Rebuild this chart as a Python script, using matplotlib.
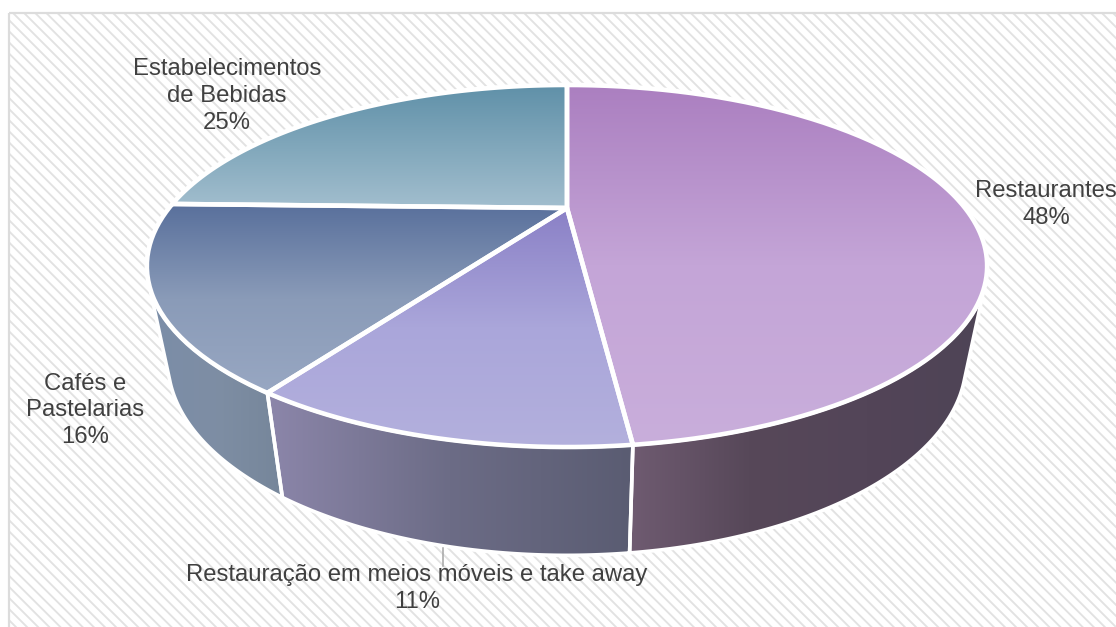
import numpy as np
import matplotlib
matplotlib.use("Agg")
import matplotlib.pyplot as plt
from matplotlib.colors import LinearSegmentedColormap
from matplotlib.patches import Polygon, Rectangle
from matplotlib.path import Path
from matplotlib.transforms import Affine2D, Transform

# ---- data -------------------------------------------------------------
categories = ["Restaurantes", "Restauração em meios móveis e take away",
              "Cafés e\nPastelarias", "Estabelecimentos\nde Bebidas"]
values = [48.2, 11.1, 16.1, 24.6]

# ---- styles ------------------------------------------------------------
top_colors = [["#ab7fc0", "#c4a5d7", "#c9aedb"], ["#8a80c6", "#aaa6da", "#b3b0dd"],
              ["#59709c", "#8a9bb8", "#98a7c2"], ["#5f90a8", "#a2bece"]]
wall_colors = [["#6f5b71", "#574859", "#534558", "#4e4456"],
               ["#8c86aa", "#6c6c86", "#5a5c72"],
               ["#7b8da8", "#7e8ea4", "#76869a"]]
label_pos = [(1046, 204.5), (417, 588.5), (85, 410.5), (227, 96)]
TEXT = "#404040"

plt.rcParams["font.family"] = ["Liberation Sans", "DejaVu Sans"]
plt.rcParams["hatch.linewidth"] = 1.35

fig = plt.figure(figsize=(11.16, 6.27), dpi=100, facecolor="white")
ax = fig.add_axes([0, 0, 1, 1])


class Perspective(Transform):
    """Maps the unit circle of the pie to the tilted disc on the page."""
    input_dims = output_dims = 2
    is_separable = False
    has_inverse = False

    def __init__(self, sx=1.0, sy=1.0, oy=0.0):
        super().__init__()
        self.sx, self.sy, self.oy = sx, sy, oy

    def transform_non_affine(self, xy):
        xy = np.asarray(xy, float)
        w = 1 + 0.3204 * xy[:, 1]
        X = 398 * xy[:, 0] / w
        Y = (208 - 95.8 * xy[:, 1]) / w
        return np.column_stack([567 + self.sx * X, self.oy + self.sy * Y])

    def transform_path_non_affine(self, path):
        scaled = path.transformed(Affine2D().scale(1000))
        polys = scaled.to_polygons(closed_only=True)
        verts = np.vstack(polys) / 1000
        return Path(self.transform_non_affine(verts), closed=False)


top_map = Perspective()
bottom_map = Perspective(sx=0.95, sy=1.07, oy=77)


def gradient(colors, vertical, extent, clip, z):
    cmap = LinearSegmentedColormap.from_list("g", colors)
    g = np.linspace(0, 1, 256)
    g = g[:, None] if vertical else g[None, :]
    im = ax.imshow(g, cmap=cmap, extent=extent, aspect="auto",
                   origin="upper", zorder=z, interpolation="bilinear")
    im.set_clip_path(clip)


# ---- pie faces ---------------------------------------------------------
wedges, _ = ax.pie(values, startangle=90, counterclock=False, radius=1,
                   wedgeprops=dict(transform=top_map + ax.transData,
                                   facecolor="none", edgecolor="white",
                                   linewidth=3.3, joinstyle="round", zorder=4))
ax.set_aspect("auto")
ax.set_axis_on()
ax.set_frame_on(False)

for i, w in enumerate(wedges):
    pts = top_map.transform_path_non_affine(w.get_path()).vertices
    ext = (pts[:, 0].min(), pts[:, 0].max(), pts[:, 1].max(), pts[:, 1].min())
    gradient(top_colors[i], True, ext, w, 3)

    # side wall: only the part of the slice's rim that faces the viewer
    t = np.radians(np.linspace(w.theta1, w.theta2, 240))
    circle = np.column_stack([np.cos(t), np.sin(t)])
    up = top_map.transform_non_affine(circle)
    low = bottom_map.transform_non_affine(circle)
    tangent = np.gradient(up, axis=0)
    drop = low - up
    front = tangent[:, 0] * drop[:, 1] - tangent[:, 1] * drop[:, 0] > 0
    if front.sum() < 2 or i >= len(wall_colors):
        continue
    up, low = up[front], low[front]
    wall = Polygon(np.vstack([up, low[::-1]]), closed=True, facecolor="none",
                   edgecolor="white", linewidth=2.6, joinstyle="round", zorder=2)
    ax.add_patch(wall)
    ext = (min(low[:, 0].min(), up[:, 0].min()), max(low[:, 0].max(), up[:, 0].max()),
           low[:, 1].max(), up[:, 1].min())
    gradient(wall_colors[i], False, ext, wall, 1)

# ---- background --------------------------------------------------------
ax.add_patch(Rectangle((9, 13), 1120, 630, facecolor="white",
                       edgecolor="#e2e2e2", hatch="\\\\\\", linewidth=0, zorder=0))
ax.add_patch(Rectangle((9, 13), 1120, 630, facecolor="none",
                       edgecolor="#dcdcdc", linewidth=1.6, zorder=0.5))

# ---- labels ------------------------------------------------------------
for name, v, (x, y) in zip(categories, values, label_pos):
    ax.text(x, y, f"{name}\n{round(v)}%", ha="center", va="center", ma="center",
            fontsize=17.2, color=TEXT, linespacing=1.27, zorder=6)
ax.plot([443, 443], [548, 566], color="#a6a6a6", linewidth=1.1, zorder=5)

ax.set_xlim(0, 1116)
ax.set_ylim(627, 0)
ax.set_xticks([])
ax.set_yticks([])
fig.savefig("out.png", dpi=100)
